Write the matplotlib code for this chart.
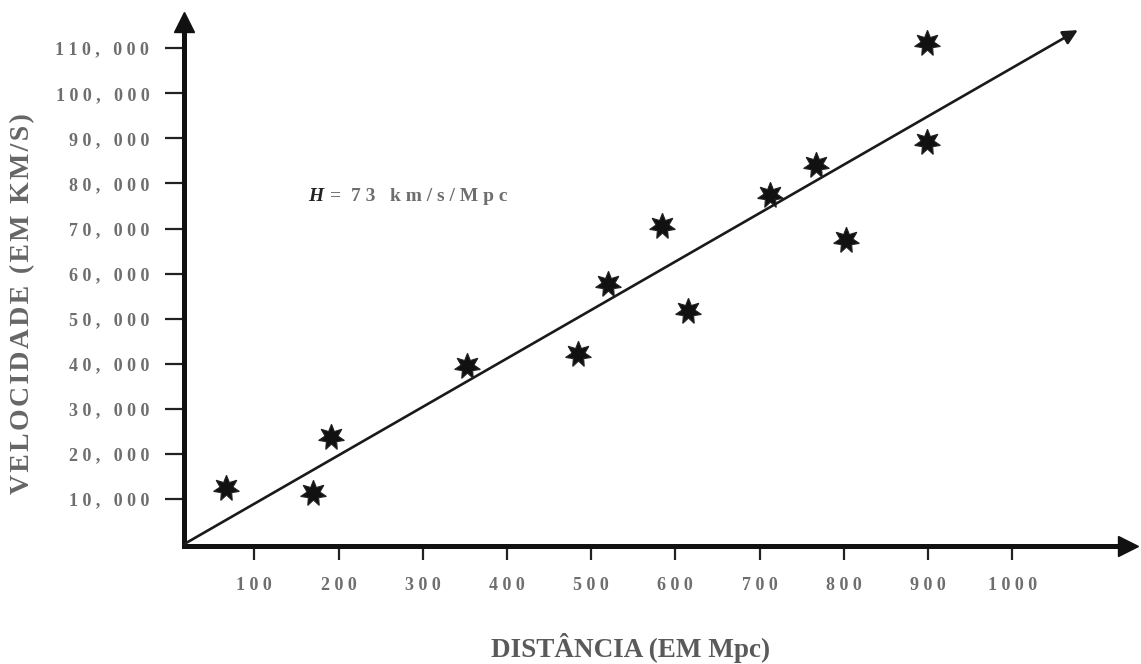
import matplotlib
matplotlib.use("Agg")
import matplotlib.pyplot as plt

# ---- data ----
dist = [66, 170, 191, 352, 484, 520, 584, 615, 712, 767, 803, 899, 899]
vel = [12400, 11400, 23800, 39600, 42200, 57800, 70600, 51700, 77400, 84100, 67500, 111100, 89300]
x_ticks = [100, 200, 300, 400, 500, 600, 700, 800, 900, 1000]
y_ticks = [10000, 20000, 30000, 40000, 50000, 60000, 70000, 80000, 90000, 100000, 110000]
fit_x = [16.5, 1078]
fit_y = [0, 114000]

def spaced_int(v):
    return " ".join(str(v))

def spaced_thousands(v):
    a, b = divmod(v, 1000)
    return " ".join(str(a)) + " ,   " + " ".join("%03d" % b)

def letter_spaced(s):
    return "\u200a".join(s)

W, H = 1141, 664
fig = plt.figure(figsize=(W / 100, H / 100), dpi=100)
ax = fig.add_axes([184 / W, (H - 546) / H, (1128 - 184) / W, (546 - 22) / H])
ax.set_xlim(16.5, 1137.6)
ax.set_ylim(-400, 115800)

serif = ["Liberation Serif", "DejaVu Serif"]
for s in ("top", "right"):
    ax.spines[s].set_visible(False)
for s in ("left", "bottom"):
    ax.spines[s].set_linewidth(3.6)
    ax.spines[s].set_color("#111111")
    ax.spines[s].set_capstyle("projecting")

ax.plot(1, 0, marker=">", ms=15, color="#111111", transform=ax.transAxes, clip_on=False)
ax.plot(0, 1, marker="^", ms=15, color="#111111", transform=ax.transAxes, clip_on=False)

ax.set_xticks(x_ticks)
ax.set_xticklabels([spaced_int(v) for v in x_ticks], family=serif, fontweight="bold",
                   fontsize=13, color="#6e6e6e")
ax.set_yticks(y_ticks)
ax.set_yticklabels([spaced_thousands(v) for v in y_ticks], family=serif, fontweight="bold",
                   fontsize=13, color="#6e6e6e")
ax.tick_params(axis="x", length=10, width=1.6, color="#222222", pad=12)
ax.tick_params(axis="y", length=14, width=1.6, color="#222222", pad=11)

ax.annotate("", xy=(fit_x[1], fit_y[1]), xytext=(fit_x[0], fit_y[0]),
            arrowprops=dict(arrowstyle="-|>", lw=1.9, color="#1a1a1a", mutation_scale=22,
                            shrinkA=0, shrinkB=0))

ax.plot(dist, vel, linestyle="none", marker=(7, 1, 0), ms=19, color="#111111",
        markeredgecolor="#222222", markeredgewidth=0.8, zorder=5)

ax.text(164, 77100, "H", family=serif, fontweight="bold", style="italic", fontsize=14,
        color="#222222", va="center", ha="left")
ax.text(190, 77100, "=  7 3   k m / s / M p c", family=serif, fontweight="bold", fontsize=14,
        color="#6e6e6e", va="center", ha="left")

fig.text(631 / W, 1 - 657 / H, "DISTÂNCIA (EM Mpc)", family=serif, fontsize=19.5,
         fontweight="bold", color="#5a5a5a", ha="center", va="baseline")
fig.text(23 / W, 1 - 304 / H, letter_spaced("VELOCIDADE (EM KM/S)"), family=serif,
         fontsize=20, fontweight="bold", color="#666666", ha="center", va="center",
         rotation=90)

fig.savefig("out.png", dpi=100)
